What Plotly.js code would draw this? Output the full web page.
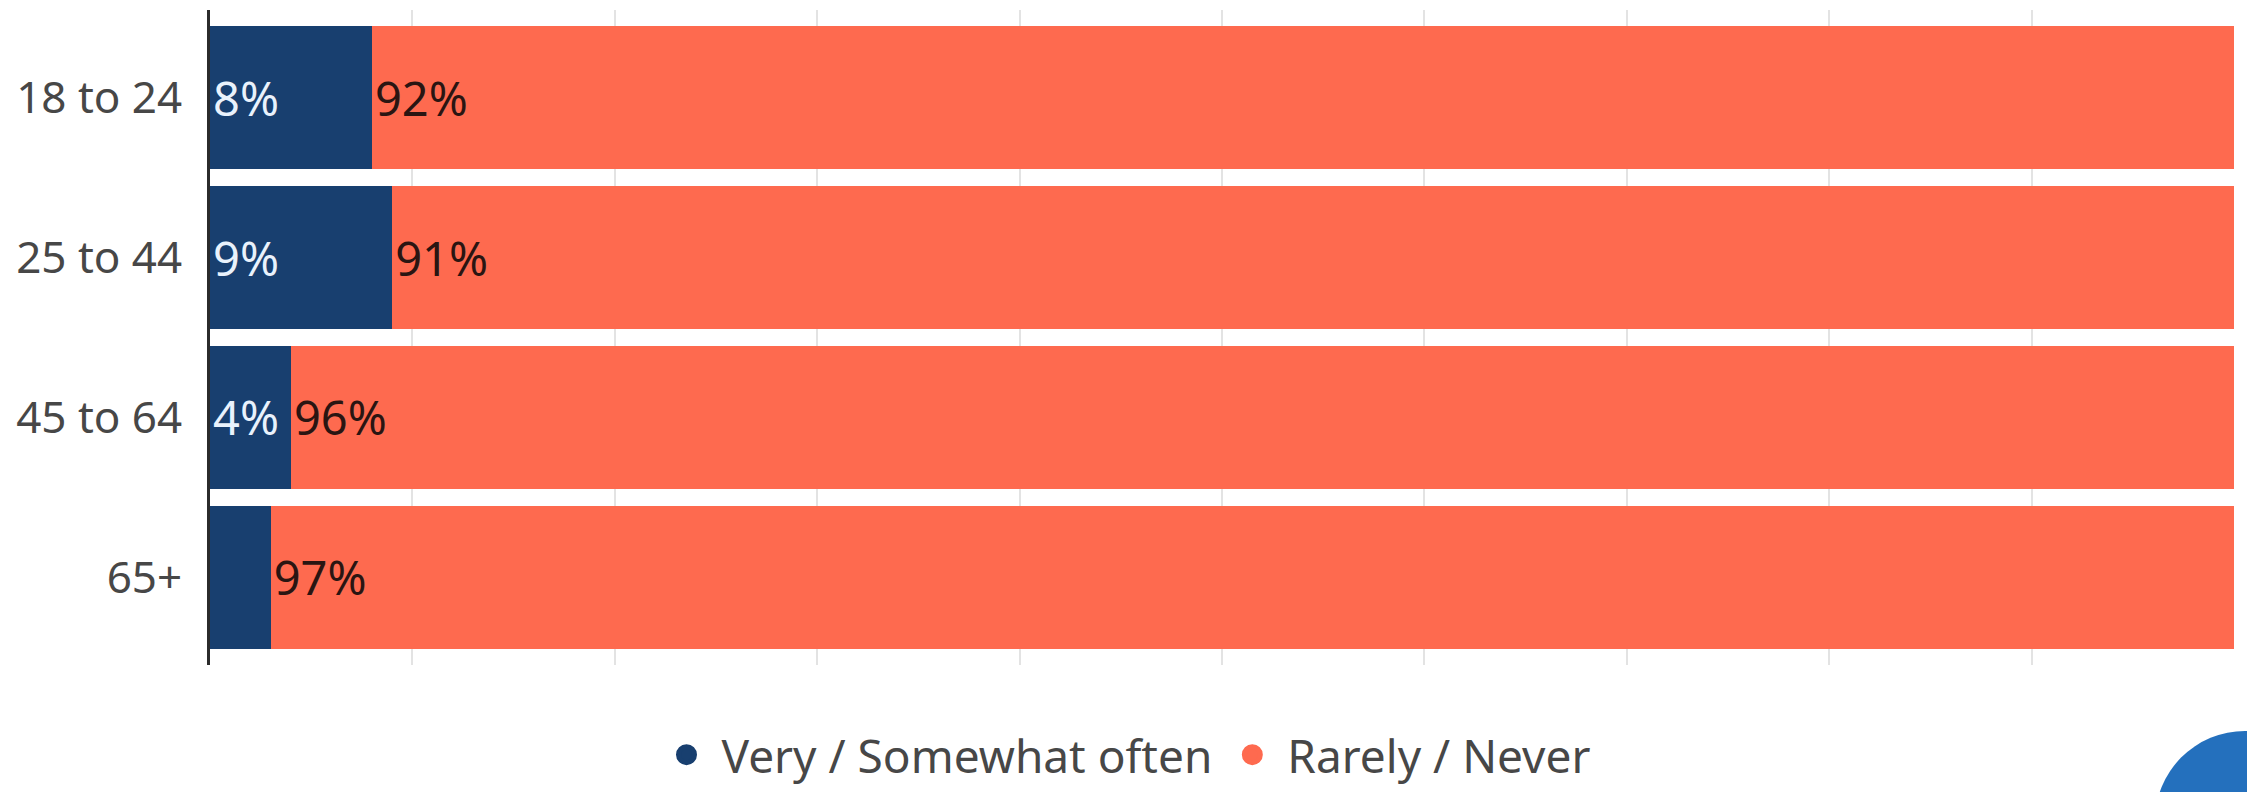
<!DOCTYPE html>
<html>
<head>
<meta charset="utf-8">
<script src="https://cdn.plot.ly/plotly-3.0.1.min.js"></script>
<style>
  html, body { margin: 0; padding: 0; background: #ffffff; }
  #chart { width: 2247px; height: 792px; }
</style>
</head>
<body>
<div id="chart"></div>
<script>
// Data
const categories = ["18 to 24", "25 to 44", "45 to 64", "65+"];
const seriesNames = ["Very / Somewhat often", "Rarely / Never"];
const oftenValues = [8, 9, 4, 3];
const rarelyValues = [92, 91, 96, 97];
const xTicks = [0, 10, 20, 30, 40, 50, 60, 70, 80, 90, 100];

const colors = ["#183f6f", "#fe6a4f"];
const font = "Noto Sans, DejaVu Sans, sans-serif";

function pctLabels(vals) { return vals.map(v => v + "%"); }

const traces = [
  {
    type: "bar", orientation: "h", name: seriesNames[0],
    y: categories, x: oftenValues, text: pctLabels(oftenValues),
    textposition: "inside", insidetextanchor: "start",
    textfont: { family: font, size: 47, color: "#e9f2fc" },
    marker: { color: colors[0] }, width: 0.894, showlegend: false,
    hoverinfo: "skip", cliponaxis: false
  },
  {
    type: "bar", orientation: "h", name: seriesNames[1],
    y: categories, x: rarelyValues, text: pctLabels(rarelyValues),
    textposition: "inside", insidetextanchor: "start",
    textfont: { family: font, size: 47, color: "#2a1512" },
    marker: { color: colors[1] }, width: 0.894, showlegend: false,
    hoverinfo: "skip", cliponaxis: false
  },
  // legend entries with round markers
  {
    type: "scatter", mode: "markers", name: seriesNames[0],
    x: [null], y: [null],
    marker: { color: colors[0], size: 30, symbol: "circle", line: { color: colors[0], width: 6 } },
    showlegend: true, hoverinfo: "skip"
  },
  {
    type: "scatter", mode: "markers", name: seriesNames[1],
    x: [null], y: [null],
    marker: { color: colors[1], size: 30, symbol: "circle", line: { color: colors[1], width: 6 } },
    showlegend: true, hoverinfo: "skip"
  }
];

const layout = {
  width: 2247, height: 792,
  paper_bgcolor: "#ffffff", plot_bgcolor: "#ffffff",
  margin: { l: 210, r: 13, t: 10, b: 127, pad: 0 },
  barmode: "stack",
  font: { family: font, color: "#444444" },
  uniformtext: { mode: "hide", minsize: 47 },
  xaxis: {
    range: [0, 100], tickvals: xTicks, showticklabels: false,
    showgrid: true, gridcolor: "#e3e3e3", gridwidth: 2,
    zeroline: false, showline: false, fixedrange: true
  },
  yaxis: {
    type: "category", categoryorder: "array", categoryarray: categories,
    range: [3.547, -0.547],
    showgrid: false, zeroline: false,
    showline: true, linecolor: "#2b2b2b", linewidth: 3,
    ticks: "", ticklabelstandoff: 16,
    tickfont: { family: font, size: 44, color: "#474747" },
    fixedrange: true
  },
  legend: {
    orientation: "h", xref: "container", yref: "container",
    x: 0.5, xanchor: "center", y: 0.047, yanchor: "middle",
    traceorder: "normal", itemwidth: 60,
    font: { family: font, size: 46, color: "#474747" },
    itemsizing: "trace", bgcolor: "rgba(0,0,0,0)"
  },
  shapes: [
    {
      type: "circle", xref: "paper", yref: "paper", layer: "above",
      x0: (2245 - 90 - 210) / 2024, x1: (2245 + 90 - 210) / 2024,
      y0: (665 - 821 - 90) / 655, y1: (665 - 821 + 90) / 655,
      fillcolor: "#2470bd", line: { width: 0 }
    }
  ],
  showlegend: true
};

Plotly.newPlot("chart", traces, layout, { displayModeBar: false, staticPlot: true });
</script>
</body>
</html>
